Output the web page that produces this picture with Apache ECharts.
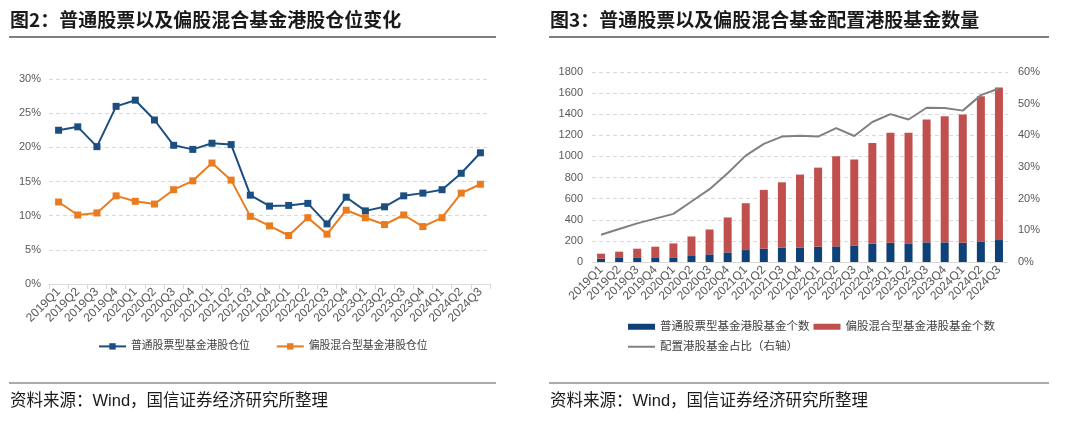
<!DOCTYPE html>
<html><head><meta charset="utf-8">
<script src="https://cdn.jsdelivr.net/npm/echarts@6/dist/echarts.min.js"></script>
<style>html,body{margin:0;padding:0;background:#fff}#c{width:1080px;height:423px}</style>
</head><body><div id="c"></div>
<script>
var categories = ['2019Q1','2019Q2','2019Q3','2019Q4','2020Q1','2020Q2','2020Q3','2020Q4','2021Q1','2021Q2','2021Q3','2021Q4','2022Q1','2022Q2','2022Q3','2022Q4','2023Q1','2023Q2','2023Q3','2023Q4','2024Q1','2024Q2','2024Q3'];
// Chart 2 (%)
var stockPosition = [22.5,23.0,20.1,26.0,26.9,24.0,20.3,19.7,20.6,20.4,13.0,11.4,11.5,11.8,8.8,12.7,10.7,11.3,12.9,13.3,13.8,16.2,19.2];
var mixedPosition = [12.0,10.1,10.4,12.9,12.1,11.7,13.8,15.1,17.7,15.2,9.9,8.5,7.1,9.7,7.3,10.8,9.7,8.7,10.1,8.4,9.7,13.3,14.6];
// Chart 3
var stockFundCount = [31,38,44,44,44,57,72,91,113,126,135,135,145,148,157,173,182,176,186,186,182,195,208];
var mixedFundCount = [48,60,82,101,132,185,236,331,444,557,620,693,749,853,815,954,1042,1048,1164,1195,1215,1375,1444];
var hkShare = [8.6,10.4,12.2,13.7,15.2,19.1,23.0,28.0,33.6,37.3,39.6,39.9,39.6,42.3,39.8,44.2,46.7,45.0,48.7,48.6,47.8,52.7,54.8];

var cjk = '"Liberation Sans", Arial, "Noto Sans CJK SC", sans-serif';
var chart = echarts.init(document.getElementById('c'));
var axisLabelX = {rotate:45, fontSize:12, color:'#595959', fontFamily:cjk, margin:6, interval:0};
chart.setOption({
  animation:false,
  textStyle:{fontFamily:cjk},
  title:[
    {text:'图2：普通股票以及偏股混合基金港股仓位变化', left:10, top:10, padding:0, textStyle:{fontSize:19, fontWeight:'bold', color:'#1a1a1a', fontFamily:'"Noto Sans CJK SC", sans-serif'}},
    {text:'图3：普通股票以及偏股混合基金配置港股基金数量', left:550, top:10, padding:0, textStyle:{fontSize:19, fontWeight:'bold', color:'#1a1a1a', fontFamily:'"Noto Sans CJK SC", sans-serif'}},
    {text:'资料来源：Wind，国信证券经济研究所整理', left:10, top:393, padding:0, textStyle:{fontSize:16.5, fontWeight:'normal', color:'#1a1a1a', fontFamily:cjk}},
    {text:'资料来源：Wind，国信证券经济研究所整理', left:550, top:393, padding:0, textStyle:{fontSize:16.5, fontWeight:'normal', color:'#1a1a1a', fontFamily:cjk}}
  ],
  graphic:[
    {type:'line', shape:{x1:9,y1:37,x2:496,y2:37}, style:{stroke:'#7f7f7f', lineWidth:2}},
    {type:'line', shape:{x1:549,y1:37,x2:1049,y2:37}, style:{stroke:'#7f7f7f', lineWidth:2}},
    {type:'line', shape:{x1:9,y1:383,x2:496,y2:383}, style:{stroke:'#595959', lineWidth:1}},
    {type:'line', shape:{x1:549,y1:383,x2:1049,y2:383}, style:{stroke:'#595959', lineWidth:1}}
  ],
  legend:[
    {left:93, top:336, itemWidth:27, itemHeight:8, itemGap:26, textStyle:{fontSize:10.8, color:'#404040'},
     data:['普通股票型基金港股仓位','偏股混合型基金港股仓位']},
    {left:623, top:316, itemWidth:27, itemHeight:6, itemGap:4, icon:'rect', textStyle:{fontSize:11.5, color:'#404040'},
     data:['普通股票型基金港股基金个数','偏股混合型基金港股基金个数']},
    {left:623, top:336, itemWidth:27, itemHeight:2, icon:'rect', textStyle:{fontSize:11.5, color:'#404040'},
     data:['配置港股基金占比（右轴）']}
  ],
  grid:[
    {left:49, right:590, top:79, bottom:139},
    {left:592, right:72, top:72, bottom:161}
  ],
  xAxis:[
    {type:'category', gridIndex:0, data:categories, boundaryGap:true,
     axisLine:{lineStyle:{color:'#d9d9d9'}}, axisTick:{show:true, lineStyle:{color:'#d9d9d9'}}, axisLabel:axisLabelX},
    {type:'category', gridIndex:1, data:categories, boundaryGap:true,
     axisLine:{lineStyle:{color:'#d9d9d9'}}, axisTick:{show:false}, axisLabel:axisLabelX}
  ],
  yAxis:[
    {type:'value', gridIndex:0, min:0, max:30, interval:5,
     axisLabel:{formatter:'{value}%', fontSize:11, color:'#595959', margin:8},
     axisLine:{show:false}, axisTick:{show:false},
     splitLine:{lineStyle:{color:'#d9d9d9', type:[4,3]}}},
    {type:'value', gridIndex:1, min:0, max:1800, interval:200,
     axisLabel:{formatter:function(v){return String(v);}, fontSize:11, color:'#595959', margin:9},
     axisLine:{show:false}, axisTick:{show:false},
     splitLine:{lineStyle:{color:'#d9d9d9', type:[4,3]}}},
    {type:'value', gridIndex:1, position:'right', min:0, max:60, interval:10,
     axisLabel:{formatter:'{value}%', fontSize:11, color:'#595959', margin:10},
     axisLine:{show:false}, axisTick:{show:false}, splitLine:{show:false}}
  ],
  series:[
    {name:'普通股票型基金港股仓位', type:'line', xAxisIndex:0, yAxisIndex:0, data:stockPosition,
     symbol:'rect', symbolSize:7, color:'#1b4f82', lineStyle:{width:2, color:'#1b4f82'}, itemStyle:{color:'#1b4f82'}},
    {name:'偏股混合型基金港股仓位', type:'line', xAxisIndex:0, yAxisIndex:0, data:mixedPosition,
     symbol:'rect', symbolSize:7, color:'#ea7b1f', lineStyle:{width:2, color:'#ea7b1f'}, itemStyle:{color:'#ea7b1f'}},
    {name:'普通股票型基金港股基金个数', type:'bar', xAxisIndex:1, yAxisIndex:1, stack:'n', data:stockFundCount,
     barWidth:8, itemStyle:{color:'#0d4177'}},
    {name:'偏股混合型基金港股基金个数', type:'bar', xAxisIndex:1, yAxisIndex:1, stack:'n', data:mixedFundCount,
     barWidth:8, itemStyle:{color:'#c0504d'}},
    {name:'配置港股基金占比（右轴）', type:'line', xAxisIndex:1, yAxisIndex:2, data:hkShare,
     symbol:'none', color:'#808080', itemStyle:{color:'#808080'}, lineStyle:{width:2, color:'#808080'}}
  ]
});
</script></body></html>
